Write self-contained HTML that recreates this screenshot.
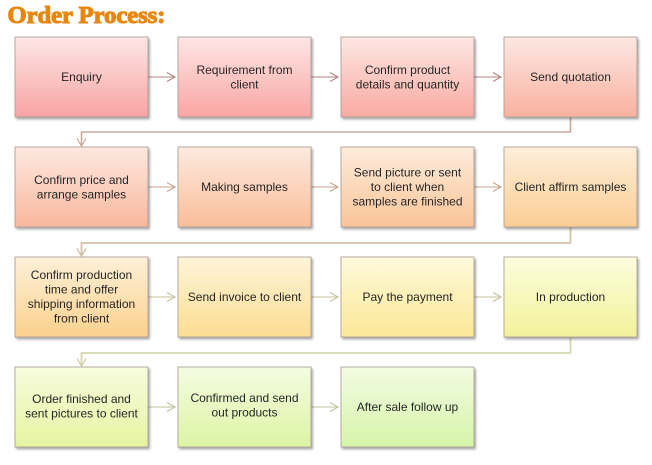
<!DOCTYPE html>
<html><head><meta charset="utf-8"><style>
html,body{margin:0;padding:0;background:#fff;}
svg{display:block;}
text{font-family:"Liberation Sans",Arial,sans-serif;font-size:12px;fill:#262626;text-anchor:middle;}
</style></head><body>
<svg width="652" height="465" viewBox="0 0 652 465" xmlns="http://www.w3.org/2000/svg">
<defs>
<filter id="sh" x="-10%" y="-10%" width="125%" height="130%"><feGaussianBlur in="SourceAlpha" stdDeviation="1.2"/><feOffset dx="1.5" dy="2" result="o"/><feComponentTransfer><feFuncA type="linear" slope="0.35"/></feComponentTransfer><feMerge><feMergeNode/><feMergeNode in="SourceGraphic"/></feMerge></filter>
<linearGradient id="g0" x1="0" y1="0" x2="0" y2="1"><stop offset="0" stop-color="#fde6e6"/><stop offset="1" stop-color="#f9a3a3"/></linearGradient>
<linearGradient id="g1" x1="0" y1="0" x2="0" y2="1"><stop offset="0" stop-color="#fde6e5"/><stop offset="1" stop-color="#f9a6a3"/></linearGradient>
<linearGradient id="g2" x1="0" y1="0" x2="0" y2="1"><stop offset="0" stop-color="#fde6e3"/><stop offset="1" stop-color="#f9aaa1"/></linearGradient>
<linearGradient id="g3" x1="0" y1="0" x2="0" y2="1"><stop offset="0" stop-color="#fde7e2"/><stop offset="1" stop-color="#f9b19f"/></linearGradient>
<linearGradient id="g4" x1="0" y1="0" x2="0" y2="1"><stop offset="0" stop-color="#fde8e0"/><stop offset="1" stop-color="#f9b79d"/></linearGradient>
<linearGradient id="g5" x1="0" y1="0" x2="0" y2="1"><stop offset="0" stop-color="#fdeade"/><stop offset="1" stop-color="#fabd9a"/></linearGradient>
<linearGradient id="g6" x1="0" y1="0" x2="0" y2="1"><stop offset="0" stop-color="#fdecdc"/><stop offset="1" stop-color="#fac497"/></linearGradient>
<linearGradient id="g7" x1="0" y1="0" x2="0" y2="1"><stop offset="0" stop-color="#fdeeda"/><stop offset="1" stop-color="#fbcd94"/></linearGradient>
<linearGradient id="g8" x1="0" y1="0" x2="0" y2="1"><stop offset="0" stop-color="#fdf0d8"/><stop offset="1" stop-color="#fbd18d"/></linearGradient>
<linearGradient id="g9" x1="0" y1="0" x2="0" y2="1"><stop offset="0" stop-color="#fef4d8"/><stop offset="1" stop-color="#fcdd92"/></linearGradient>
<linearGradient id="g10" x1="0" y1="0" x2="0" y2="1"><stop offset="0" stop-color="#fef9da"/><stop offset="1" stop-color="#fce896"/></linearGradient>
<linearGradient id="g11" x1="0" y1="0" x2="0" y2="1"><stop offset="0" stop-color="#fdfdde"/><stop offset="1" stop-color="#f2f29a"/></linearGradient>
<linearGradient id="g12" x1="0" y1="0" x2="0" y2="1"><stop offset="0" stop-color="#f7fcde"/><stop offset="1" stop-color="#e5f4a0"/></linearGradient>
<linearGradient id="g13" x1="0" y1="0" x2="0" y2="1"><stop offset="0" stop-color="#f4fce1"/><stop offset="1" stop-color="#ddf4a5"/></linearGradient>
<linearGradient id="g14" x1="0" y1="0" x2="0" y2="1"><stop offset="0" stop-color="#f2fce3"/><stop offset="1" stop-color="#d6f4a8"/></linearGradient>
</defs>

<text x="7.5" y="23" style="font-family:'Liberation Serif',serif;font-weight:bold;font-size:24px;fill:#e8860f;stroke:#e8860f;stroke-width:1.1;text-anchor:start;" textLength="158" lengthAdjust="spacingAndGlyphs">Order Process:</text>

<!-- connectors -->
<g fill="none" stroke-width="1.1">
  <g stroke="#b58582">
    <path d="M148 77H175M167 72.5L175 77L167 81.5"/>
    <path d="M311 77H338M330 72.5L338 77L330 81.5"/>
    <path d="M474 77H501M493 72.5L501 77L493 81.5"/>
  </g>
  <path stroke="#c8aa9c" stroke-width="1.6" d="M570.5 117V132H81.5V145"/>
  <path stroke="#c4a596" d="M77 138.5L81.5 146L86 138.5"/>
  <g stroke="#c6a690">
    <path d="M148 187H175M167 182.5L175 187L167 191.5"/>
    <path d="M311 187H338M330 182.5L338 187L330 191.5"/>
    <path d="M474 187H501M493 182.5L501 187L493 191.5"/>
  </g>
  <path stroke="#d4c4a8" stroke-width="1.8" d="M570.5 227V243H81.5V255"/>
  <path stroke="#c8b898" d="M77 248.5L81.5 256L86 248.5"/>
  <g stroke="#c8c29e">
    <path d="M148 297H175M167 292.5L175 297L167 301.5"/>
    <path d="M311 297H338M330 292.5L338 297L330 301.5"/>
    <path d="M474 297H501M493 292.5L501 297L493 301.5"/>
  </g>
  <path stroke="#d6d8ae" stroke-width="1.8" d="M570.5 337V353H81.5V365"/>
  <path stroke="#c4c89c" d="M77 358.5L81.5 366L86 358.5"/>
  <g stroke="#bcc69e">
    <path d="M148 407H175M167 402.5L175 407L167 411.5"/>
    <path d="M311 407H338M330 402.5L338 407L330 411.5"/>
  </g>
</g>

<!-- boxes -->
<g filter="url(#sh)" stroke="#a89a90" stroke-width="0.8">
  <rect x="15" y="37" width="133" height="80" fill="url(#g0)"/>
  <rect x="178" y="37" width="133" height="80" fill="url(#g1)"/>
  <rect x="341" y="37" width="133" height="80" fill="url(#g2)"/>
  <rect x="504" y="37" width="133" height="80" fill="url(#g3)"/>
  <rect x="15" y="147" width="133" height="80" fill="url(#g4)"/>
  <rect x="178" y="147" width="133" height="80" fill="url(#g5)"/>
  <rect x="341" y="147" width="133" height="80" fill="url(#g6)"/>
  <rect x="504" y="147" width="133" height="80" fill="url(#g7)"/>
  <rect x="15" y="257" width="133" height="80" fill="url(#g8)"/>
  <rect x="178" y="257" width="133" height="80" fill="url(#g9)"/>
  <rect x="341" y="257" width="133" height="80" fill="url(#g10)"/>
  <rect x="504" y="257" width="133" height="80" fill="url(#g11)"/>
  <rect x="15" y="367" width="133" height="80" fill="url(#g12)"/>
  <rect x="178" y="367" width="133" height="80" fill="url(#g13)"/>
  <rect x="341" y="367" width="133" height="80" fill="url(#g14)"/>
</g>

<!-- labels -->
<text x="81.5" y="81">Enquiry</text>
<text x="244.5" y="74">Requirement from</text>
<text x="244.5" y="88.5">client</text>
<text x="407.5" y="74">Confirm product</text>
<text x="407.5" y="88.5">details and quantity</text>
<text x="570.5" y="81">Send quotation</text>

<text x="81.5" y="184">Confirm price and</text>
<text x="81.5" y="198.5">arrange samples</text>
<text x="244.5" y="191">Making samples</text>
<text x="407.5" y="176.5">Send picture or sent</text>
<text x="407.5" y="191">to client when</text>
<text x="407.5" y="205.5">samples are finished</text>
<text x="570.5" y="191">Client affirm samples</text>

<text x="81.5" y="279">Confirm production</text>
<text x="81.5" y="293.5">time and offer</text>
<text x="81.5" y="308">shipping information</text>
<text x="81.5" y="322.5">from client</text>
<text x="244.5" y="301">Send invoice to client</text>
<text x="407.5" y="301">Pay the payment</text>
<text x="570.5" y="301">In production</text>

<text x="81.5" y="403">Order finished and</text>
<text x="81.5" y="417.5">sent pictures to client</text>
<text x="244.5" y="402">Confirmed and send</text>
<text x="244.5" y="416.5">out products</text>
<text x="407.5" y="411">After sale follow up</text>
</svg>
</body></html>
